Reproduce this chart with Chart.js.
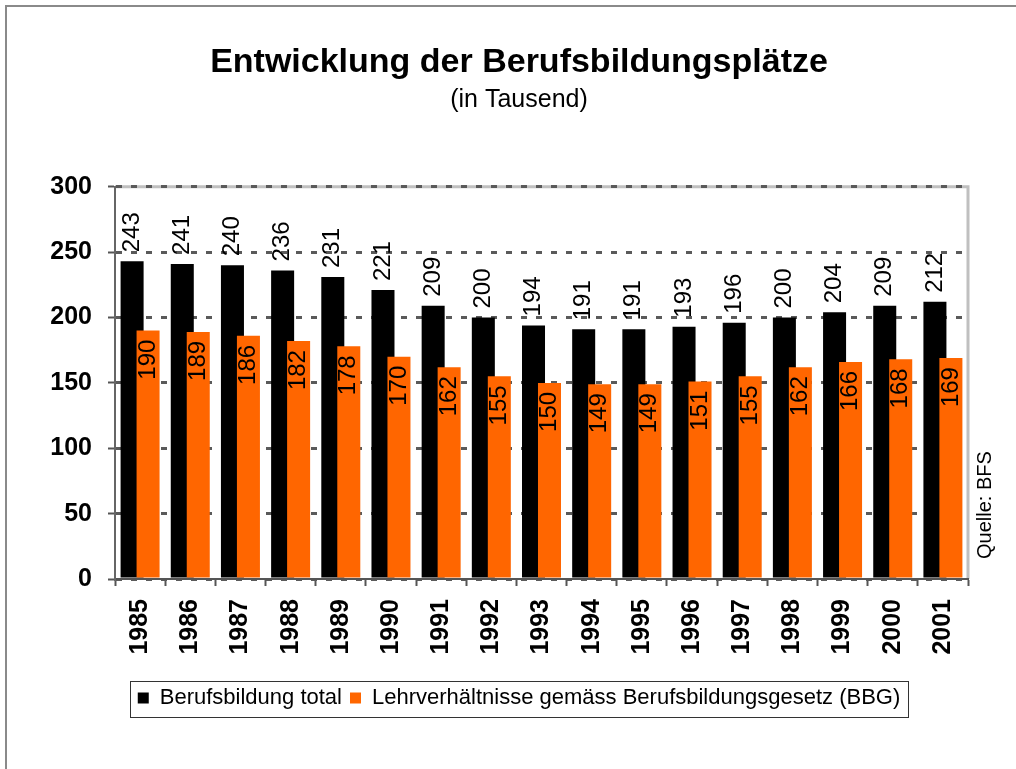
<!DOCTYPE html>
<html>
<head>
<meta charset="utf-8">
<script src="https://cdn.jsdelivr.net/npm/chart.js@4"></script>
<style>
  html, body { margin: 0; padding: 0; background: #fff; }
  #wrap { width: 1016px; height: 769px; }
</style>
</head>
<body>
<div id="wrap"><canvas id="grafico" width="1016" height="769"></canvas></div>
<script>
// Daten
var jahre = ['1985', '1986', '1987', '1988', '1989', '1990', '1991', '1992', '1993',
             '1994', '1995', '1996', '1997', '1998', '1999', '2000', '2001'];
var berufsbildungTotal = [243, 241, 240, 236, 231, 221, 209, 200, 194, 191, 191, 193, 196, 200, 204, 209, 212];
var lehrverhaeltnisseBBG = [190, 189, 186, 182, 178, 170, 162, 155, 150, 149, 149, 151, 155, 162, 166, 168, 169];
var yTicks = [0, 50, 100, 150, 200, 250, 300];

var schrift = "'Liberation Sans', Arial, sans-serif";

// Rahmen, Hintergrund, Reihenfolge der Balken, Werte und Quelle
var dekoration = {
    id: 'dekoration',
    beforeDraw: function (chart) {
        var c = chart.ctx, a = chart.chartArea;
        c.save();
        c.fillStyle = '#fff';
        c.fillRect(0, 0, chart.width, chart.height);
        // äusserer Rahmen
        c.strokeStyle = '#8a8a8a';
        c.lineWidth = 2;
        c.beginPath();
        c.moveTo(6, chart.height);
        c.lineTo(6, 6);
        c.lineTo(chart.width, 6);
        c.stroke();
        // Rahmen der Zeichenfläche
        c.strokeStyle = '#c0c0c0';
        c.lineWidth = 3;
        c.beginPath();
        c.moveTo(a.left, a.top);
        c.lineTo(a.right, a.top);
        c.lineTo(a.right, a.bottom);
        c.stroke();
        c.restore();
    },
    beforeDatasetDraw: function (chart, args) {
        // orange Balken erst nach den schwarzen zeichnen
        if (args.index === 1 && !chart._orangeJetzt) return false;
    },
    afterDatasetsDraw: function (chart) {
        chart._orangeJetzt = true;
        chart.getDatasetMeta(1).controller.draw();
        chart._orangeJetzt = false;

        var c = chart.ctx;
        c.save();
        c.font = '24px ' + schrift;
        c.fillStyle = '#000';
        c.textBaseline = 'middle';
        chart.data.datasets.forEach(function (ds, di) {
            chart.getDatasetMeta(di).data.forEach(function (bar, i) {
                c.save();
                if (di === 0) {
                    c.translate(bar.x, bar.y - 9);
                    c.rotate(-Math.PI / 2);
                    c.textAlign = 'left';
                } else {
                    c.translate(bar.x, bar.y + 9);
                    c.rotate(-Math.PI / 2);
                    c.textAlign = 'right';
                }
                c.fillText(String(ds.data[i]), 0, 0);
                c.restore();
            });
        });
        c.restore();
    },
    afterDraw: function (chart) {
        var c = chart.ctx, a = chart.chartArea;
        c.save();
        // Quelle
        c.font = '20px ' + schrift;
        c.fillStyle = '#000';
        c.translate(a.right + 17, 559);
        c.rotate(-Math.PI / 2);
        c.textAlign = 'left';
        c.textBaseline = 'middle';
        c.fillText('Quelle: BFS', 0, 0);
        c.restore();

        // Kasten um die Legende
        var lg = chart.legend;
        if (lg && lg.legendHitBoxes.length) {
            var l = Infinity, r = -Infinity;
            lg.legendHitBoxes.forEach(function (hb) {
                l = Math.min(l, hb.left);
                r = Math.max(r, hb.left + hb.width);
            });
            c.save();
            c.strokeStyle = '#333';
            c.lineWidth = 1;
            c.strokeRect(Math.round(l - 8) + 0.5, Math.round(lg.top + 2) + 0.5,
                         Math.round(r - l + 16), Math.round(lg.bottom - lg.top - 4));
            c.restore();
        }
    }
};

var ctx = document.getElementById('grafico').getContext('2d');
var grafico = new Chart(ctx, {
    type: 'bar',
    data: {
        labels: jahre,
        datasets: [{
            label: 'Berufsbildung total',
            data: berufsbildungTotal,
            backgroundColor: '#000000',
            borderWidth: 0,
            barPercentage: 1.44,
            categoryPercentage: 0.637
        }, {
            label: 'Lehrverhältnisse gemäss Berufsbildungsgesetz (BBG)',
            data: lehrverhaeltnisseBBG,
            backgroundColor: '#ff6600',
            borderWidth: 0,
            barPercentage: 1.44,
            categoryPercentage: 0.637
        }]
    },
    options: {
        responsive: false,
        animation: false,
        events: [],
        layout: { padding: { left: 22, right: 0, top: 20, bottom: 50 } },
        plugins: {
            title: {
                display: true,
                text: 'Entwicklung der Berufsbildungsplätze',
                color: '#000',
                font: { family: schrift, size: 34, weight: 'bold', lineHeight: 1.2 },
                padding: { top: 22, bottom: 2 }
            },
            subtitle: {
                display: true,
                text: '(in Tausend)',
                color: '#000',
                font: { family: schrift, size: 25, lineHeight: 1.2 },
                padding: { top: 0, bottom: 72 }
            },
            legend: {
                position: 'bottom',
                labels: {
                    color: '#000',
                    font: { family: schrift, size: 22 },
                    boxWidth: 11,
                    boxHeight: 11,
                    padding: 8
                }
            },
            tooltip: { enabled: false }
        },
        scales: {
            x: {
                offset: true,
                grid: {
                    offset: true,
                    drawOnChartArea: false,
                    drawTicks: true,
                    tickLength: 7,
                    tickColor: '#555',
                    tickWidth: 2
                },
                border: { display: true, color: '#555', width: 2 },
                ticks: {
                    color: '#000',
                    font: { family: schrift, size: 25, weight: 'bold' },
                    minRotation: 90,
                    maxRotation: 90,
                    autoSkip: false,
                    padding: 13
                },
                afterFit: function (scale) { scale.height = 100; }
            },
            y: {
                min: 0,
                max: 300,
                afterBuildTicks: function (scale) {
                    scale.ticks = yTicks.map(function (v) { return { value: v }; });
                },
                grid: {
                    color: '#5a5a5a',
                    lineWidth: 3,
                    drawTicks: true,
                    tickLength: 7,
                    tickColor: '#555',
                    tickWidth: 2,
                    tickBorderDash: []
                },
                border: { display: true, color: '#666', width: 2, dash: [6, 9] },
                ticks: {
                    color: '#000',
                    font: { family: schrift, size: 25, weight: 'bold' },
                    padding: 16
                },
                afterFit: function (scale) { scale.width = 93; }
            },
            // leerer Platz rechts für die Quellenangabe
            rechts: {
                position: 'right',
                display: true,
                grid: { display: false },
                border: { display: false },
                ticks: { display: false },
                afterFit: function (scale) { scale.width = 48; }
            }
        }
    },
    plugins: [dekoration]
});
</script>
</body>
</html>
